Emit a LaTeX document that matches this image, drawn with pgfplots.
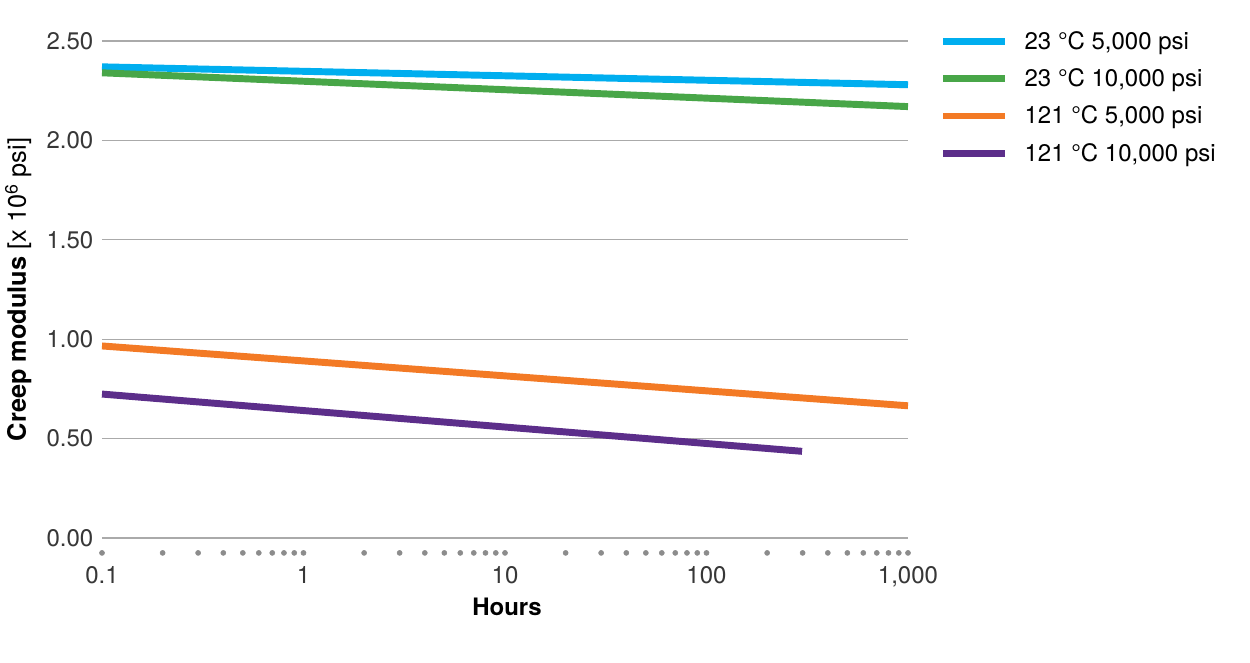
\documentclass[border=0pt]{standalone}
\usepackage{pgfplots}
\pgfplotsset{compat=1.18}
\usepackage{fontspec}
\setmainfont{TeX Gyre Heros}
\definecolor{cblue}{RGB}{0,174,239}
\definecolor{cgreen}{RGB}{72,166,72}
\definecolor{corange}{RGB}{243,122,37}
\definecolor{cpurple}{RGB}{92,46,138}
\definecolor{gridgray}{RGB}{170,170,170}
\definecolor{dotgray}{RGB}{140,140,140}
\definecolor{ticktext}{RGB}{55,55,55}
\begin{document}
\begin{tikzpicture}
\useasboundingbox (-76.5pt,-93.75pt) rectangle (861pt,403.5pt);
\begin{axis}[
  at={(0,0)}, anchor=south west,
  scale only axis, width=604.5pt, height=372.75pt,
  xmode=log, xmin=0.1, xmax=1000, ymin=0, ymax=2.5,
  clip=false,
  axis line style={draw=none},
  major tick style={draw=none}, minor tick style={draw=none},
  ymajorgrids=true,
  grid style={gridgray, line width=0.8pt},
  ytick={0,0.5,1,1.5,2,2.5},
  yticklabels={0.00,0.50,1.00,1.50,2.00,2.50},
  xtick={0.1,1,10,100,1000},
  xticklabels={0.1,1,10,100,{1,000}},
  minor xtick={},
  xticklabel style={font=\fontsize{18}{21}\selectfont, text=ticktext, yshift=-18pt},
  yticklabel style={font=\fontsize{18}{21}\selectfont, text=ticktext, xshift=-3pt},
  xlabel={\bfseries Hours},
  ylabel={\textbf{Creep modulus} [x 10\textsuperscript{6} psi]},
  xlabel style={font=\fontsize{18}{21}\selectfont, at={(axis description cs:0.5025,-0.139)}, anchor=center},
  ylabel style={font=\fontsize{19}{22}\selectfont, at={(axis description cs:-0.104,0.5)}, anchor=center},
  legend style={at={(axis description cs:1.039,1.025)}, anchor=north west,
    draw=none, fill=none, font=\fontsize{18}{21}\selectfont,
    row sep=9pt, inner sep=0pt,
    /tikz/every odd column/.append style={column sep=10pt}},
  legend cell align=left,
  legend image code/.code={\draw[#1] (0cm,0cm) -- (46.5pt,0cm);},
]
\addplot[only marks, mark=*, mark size=1.9pt, color=dotgray, draw=none, forget plot] coordinates {
(0.1,-0.075)(0.2,-0.075)(0.3,-0.075)(0.4,-0.075)(0.5,-0.075)(0.6,-0.075)(0.7,-0.075)(0.8,-0.075)(0.9,-0.075)(1,-0.075)
(2,-0.075)(3,-0.075)(4,-0.075)(5,-0.075)(6,-0.075)(7,-0.075)(8,-0.075)(9,-0.075)(10,-0.075)
(20,-0.075)(30,-0.075)(40,-0.075)(50,-0.075)(60,-0.075)(70,-0.075)(80,-0.075)(90,-0.075)(100,-0.075)
(200,-0.075)(300,-0.075)(400,-0.075)(500,-0.075)(600,-0.075)(700,-0.075)(800,-0.075)(900,-0.075)(1000,-0.075)
};
\addplot[cblue, line width=5.2pt] coordinates {(0.1,2.37)(1000,2.28)};
\addlegendentry{23 °C 5,000 psi}
\addplot[cgreen, line width=5.2pt] coordinates {(0.1,2.34)(1000,2.17)};
\addlegendentry{23 °C 10,000 psi}
\addplot[corange, line width=5.2pt] coordinates {(0.1,0.966)(1000,0.665)};
\addlegendentry{121 °C 5,000 psi}
\addplot[cpurple, line width=5.2pt] coordinates {(0.1,0.724)(298,0.436)};
\addlegendentry{121 °C 10,000 psi}
\end{axis}
\end{tikzpicture}
\end{document}
